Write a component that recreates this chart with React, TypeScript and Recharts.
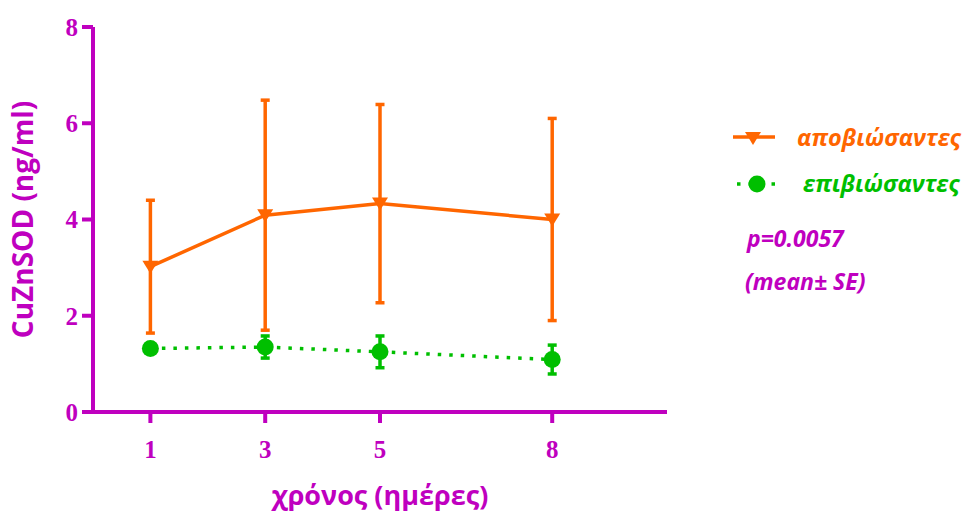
import React from 'react';
import { ComposedChart, Line, XAxis, YAxis, ErrorBar, Legend, Label } from 'recharts';

const days = [1, 3, 5, 8];
const deceasedMean = [3.02, 4.09, 4.33, 4.0];
const deceasedSE = [1.38, 2.39, 2.06, 2.1];
const survivorsMean = [1.32, 1.35, 1.25, 1.09];
const survivorsSE = [0.06, 0.23, 0.33, 0.3];
const xTicks = [1, 3, 5, 8];
const yTicks = [0, 2, 4, 6, 8];

const deceasedName = 'αποβιώσαντες';
const survivorsName = 'επιβιώσαντες';
const pText = 'p=0.0057';
const noteText = '(mean± SE)';

const MAGENTA = '#BF00BF';
const ORANGE = '#FF6600';
const GREEN = '#00BF00';

const data = days.map((d, i) => ({
  day: d,
  dec: deceasedMean[i],
  decErr: deceasedSE[i],
  sur: survivorsMean[i],
  surErr: survivorsSE[i],
}));

const TriDot = (props: any) => {
  const { cx, cy, index } = props;
  if (cx == null || cy == null) return <g key={'t' + index} />;
  return (
    <path
      key={'t' + index}
      d={`M${cx - 8},${cy - 6} L${cx + 8},${cy - 6} L${cx},${cy + 7} Z`}
      fill={ORANGE}
      stroke="none"
    />
  );
};

const CircDot = (props: any) => {
  const { cx, cy, index } = props;
  if (cx == null || cy == null) return <g key={'c' + index} />;
  return <circle key={'c' + index} cx={cx} cy={cy} r={8.5} fill={GREEN} stroke="none" />;
};

const LegendContent = () => (
  <svg width={243} height={200} style={{ display: 'block' }}>
    <line x1={13} y1={27} x2={55} y2={27} stroke={ORANGE} strokeWidth={3.5} />
    <path d={`M${25},${22} L${41},${22} L${33},${35} Z`} fill={ORANGE} />
    <text x={77} y={36} fill={ORANGE} fontFamily="'Open Sans', sans-serif" fontWeight={700} fontStyle="italic" fontSize={23.5}>
      {deceasedName}
    </text>
    <line x1={17} y1={74} x2={55} y2={74} stroke={GREEN} strokeWidth={3.5} strokeDasharray="3.5 8" />
    <circle cx={37} cy={74} r={8.5} fill={GREEN} />
    <text x={83} y={82} fill={GREEN} fontFamily="'Open Sans', sans-serif" fontWeight={700} fontStyle="italic" fontSize={23.5}>
      {survivorsName}
    </text>
    <text x={27} y={137} fill={MAGENTA} fontFamily="'Open Sans', sans-serif" fontWeight={700} fontStyle="italic" fontSize={23}>
      {pText}
    </text>
    <text x={25} y={180} fill={MAGENTA} fontFamily="'Open Sans', sans-serif" fontWeight={700} fontStyle="italic" fontSize={23}>
      {noteText}
    </text>
  </svg>
);

export default function App() {
  const tickStyle = { fill: MAGENTA, fontFamily: "'Liberation Serif', 'Times New Roman', serif", fontWeight: 700, fontSize: 25 };
  return (
    <div style={{ position: 'absolute', left: 0, top: 0, width: 963, height: 513, background: '#fff' }}>
      <ComposedChart width={963} height={513} data={data} margin={{ top: 27, right: 296, bottom: 0, left: 0 }}>
        <XAxis
          dataKey="day"
          type="number"
          domain={[0, 10]}
          ticks={xTicks}
          height={101}
          axisLine={{ stroke: MAGENTA, strokeWidth: 4 }}
          tickLine={{ stroke: MAGENTA, strokeWidth: 4 }}
          tickSize={11}
          tickMargin={17}
          tick={tickStyle}
        >
          <Label
            value="χρόνος (ημέρες)"
            position="insideBottom"
            offset={8}
            style={{ fill: MAGENTA, fontFamily: "'Open Sans', sans-serif", fontWeight: 700, fontSize: 27 }}
          />
        </XAxis>
        <YAxis
          type="number"
          domain={[0, 8]}
          ticks={yTicks}
          width={93}
          axisLine={{ stroke: MAGENTA, strokeWidth: 4 }}
          tickLine={{ stroke: MAGENTA, strokeWidth: 4 }}
          tickSize={11}
          tickMargin={4}
          tick={tickStyle}
        >
          <Label
            value="CuZnSOD (ng/ml)"
            angle={-90}
            position="insideLeft"
            offset={23}
            style={{ fill: MAGENTA, fontFamily: "'Open Sans', sans-serif", fontWeight: 700, fontSize: 28, textAnchor: 'middle' }}
          />
        </YAxis>
        <Legend
          layout="vertical"
          align="center"
          verticalAlign="middle"
          content={LegendContent}
          wrapperStyle={{ position: 'absolute', left: 720, top: 110, width: 243, height: 200 }}
        />
        <Line
          dataKey="dec"
          name={deceasedName}
          stroke={ORANGE}
          strokeWidth={3.5}
          dot={TriDot}
          activeDot={false}
          isAnimationActive={false}
        >
          <ErrorBar dataKey="decErr" direction="y" width={4.5} stroke={ORANGE} strokeWidth={3.5} isAnimationActive={false} />
        </Line>
        <Line
          dataKey="sur"
          name={survivorsName}
          stroke={GREEN}
          strokeWidth={3.5}
          strokeDasharray="3.5 8"
          dot={CircDot}
          activeDot={false}
          isAnimationActive={false}
        >
          <ErrorBar dataKey="surErr" direction="y" width={4.5} stroke={GREEN} strokeWidth={3.5} isAnimationActive={false} />
        </Line>
      </ComposedChart>
    </div>
  );
}
